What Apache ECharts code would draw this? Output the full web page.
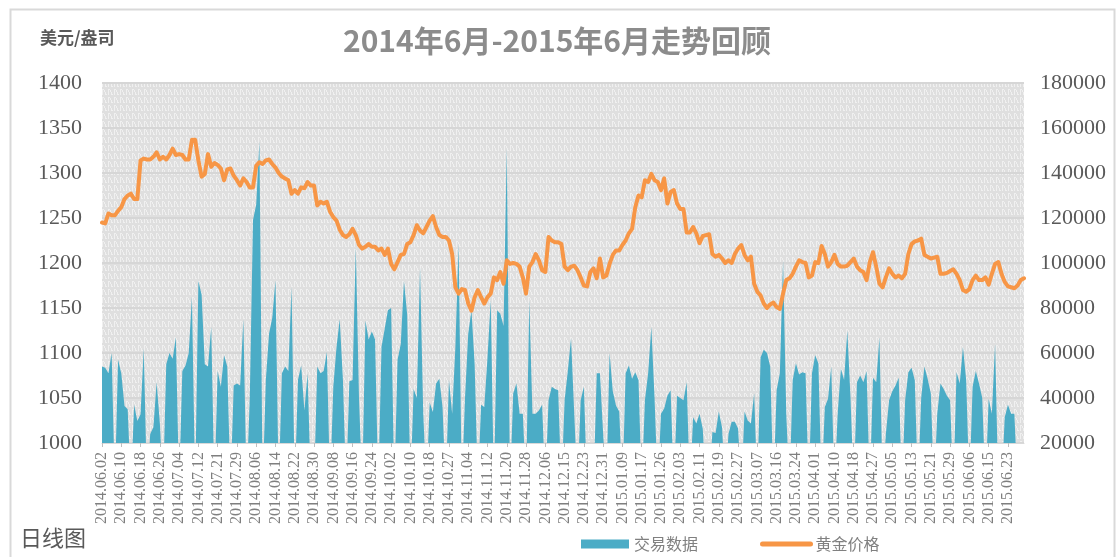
<!DOCTYPE html>
<html>
<head>
<meta charset="utf-8">
<script src="https://cdn.jsdelivr.net/npm/echarts@6/dist/echarts.min.js"></script>
<style>
html,body{margin:0;padding:0;background:#fff;}
#chart{width:1117px;height:557px;}
</style>
</head>
<body>
<div id="chart"></div>
<script>
// ---- data ----
const firstDay = '2014-06-02';
const lastDay = '2015-06-30';
// trading days on Saturdays that appear in the data, and weekdays missing from it
const extraDays = ['2014-07-12','2014-08-30','2014-10-18','2014-12-06','2015-01-17','2015-03-07','2015-04-18','2015-06-06'];
const skipDays = ['2015-01-01','2015-04-03'];

const goldPrice = [
  1245,1244,1255,1253,1253,1258,1262,1271,1275,1277,
  1271,1271,1314,1316,1315,1315,1318,1323,1315,1318,
  1315,1320,1327,1320,1321,1320,1315,1315,1337,1337,
  1314,1296,1299,1321,1307,1311,1309,1305,1292,1304,
  1305,1297,1292,1286,1294,1290,1284,1284,1308,1312,
  1310,1314,1315,1310,1306,1300,1296,1294,1292,1277,
  1281,1277,1284,1283,1290,1286,1286,1264,1268,1266,
  1268,1257,1251,1247,1237,1231,1229,1232,1238,1231,
  1220,1216,1218,1221,1218,1218,1214,1216,1209,1216,
  1199,1193,1201,1209,1210,1221,1223,1231,1242,1236,
  1233,1240,1247,1252,1240,1231,1229,1229,1225,1210,
  1173,1166,1171,1170,1155,1147,1162,1170,1162,1155,
  1162,1166,1184,1181,1190,1177,1203,1199,1200,1199,
  1196,1184,1166,1196,1201,1210,1203,1192,1190,1229,
  1225,1223,1223,1221,1196,1192,1196,1197,1192,1184,
  1175,1174,1190,1194,1183,1205,1184,1186,1199,1209,
  1214,1214,1220,1225,1233,1238,1262,1275,1273,1292,
  1290,1299,1292,1290,1281,1294,1266,1279,1281,1266,
  1260,1260,1234,1234,1240,1233,1222,1230,1231,1232,
  1210,1207,1209,1205,1200,1203,1200,1210,1216,1220,
  1209,1203,1207,1177,1168,1164,1155,1150,1154,1156,
  1151,1149,1166,1181,1183,1188,1196,1203,1201,1200,
  1184,1186,1201,1200,1219,1210,1196,1201,1209,1199,
  1196,1196,1197,1201,1205,1196,1192,1190,1181,1201,
  1212,1196,1177,1173,1184,1194,1188,1184,1186,1183,
  1188,1210,1221,1224,1225,1227,1209,1207,1205,1206,
  1207,1188,1188,1189,1191,1193,1188,1181,1170,1168,
  1171,1181,1186,1181,1181,1184,1176,1188,1199,1201,
  1188,1179,1174,1173,1172,1175,1181,1183
];

const tradeVolume = [
  54000,53500,51000,60000,0,57000,51000,36500,35000,0,
  37000,29800,32800,62000,0,24000,27000,47000,29000,0,
  55000,60000,57500,67000,0,52000,54500,60000,85000,0,
  92000,86000,55000,54000,71600,0,52000,45000,59000,54000,
  0,45600,46500,45600,75000,0,40000,119000,126000,154000,
  0,48000,68600,75700,92300,0,51000,54000,52000,89300,
  0,48000,54500,34500,51000,0,0,54000,51000,52000,
  60500,0,45000,62700,75000,48000,0,47500,48000,107000,
  40000,0,74500,66000,69600,66000,0,62700,70800,79000,
  80000,0,57000,64000,92000,77000,0,44000,40000,98000,
  33000,0,38000,33800,46400,48600,36000,0,48000,33000,
  62700,108600,0,40000,68600,79000,55000,0,37000,36000,
  58000,83500,0,79000,77500,72000,151000,0,42000,46400,
  33000,33000,0,83500,33000,33000,34500,37000,0,39000,
  45000,44000,43400,0,39000,52000,66600,33000,0,39000,
  45000,0,0,0,51000,51000,24000,0,60000,43000,
  36700,34000,0,51000,54500,48600,51500,48000,0,39000,
  51000,71600,40000,0,33000,35300,41000,43400,0,41000,
  40000,39000,47000,0,31500,28700,33000,26500,0,0,
  24900,24400,34000,27000,0,24000,29500,29500,26500,0,
  34000,30000,28700,42000,0,58000,61500,60000,54000,0,
  43400,51000,101000,33000,0,48000,55500,50500,51500,51000,
  0,51000,59000,55500,0,36000,39700,54000,0,33000,
  53000,48000,70000,40000,0,47000,50000,47000,52000,0,
  49000,47000,67000,0,24000,39000,43000,45600,49000,0,
  39000,51500,53500,48000,0,40000,54000,48600,42000,0,
  33000,46400,44000,41000,39000,0,51500,46400,62700,48000,
  0,45000,52000,46400,40000,0,39700,33000,64000,0,
  0,31500,37000,33000,33000,0,0,0
];

const priceTicks = {min:1000, max:1400, interval:50};
const volumeTicks = {min:20000, max:180000, interval:20000};
const seriesNames = ['交易数据','黄金价格'];

// ---- categories: trading calendar ----
function pad(n){return (n<10?'0':'')+n;}
function buildCategories(){
  const out = [];
  const p = s => { const a = s.split('-').map(Number); return Date.UTC(a[0], a[1]-1, a[2]); };
  const extra = new Set(extraDays), skip = new Set(skipDays);
  for (let t = p(firstDay); t <= p(lastDay); t += 86400000) {
    const d = new Date(t);
    const iso = d.getUTCFullYear()+'-'+pad(d.getUTCMonth()+1)+'-'+pad(d.getUTCDate());
    const wd = d.getUTCDay();
    const isTrading = (wd >= 1 && wd <= 5 && !skip.has(iso)) || extra.has(iso);
    if (isTrading) out.push(iso.replace(/-/g,'.'));
  }
  return out;
}
const categories = buildCategories();

// ---- background pattern ----
function makePattern(){
  const c = document.createElement('canvas');
  c.width = 6; c.height = 8;
  const g = c.getContext('2d');
  g.fillStyle = '#dfdfdf'; g.fillRect(0,0,6,8);
  g.fillStyle = '#f0f0f0';
  g.fillRect(0,1,1,6);
  g.fillRect(1,1,1,1);
  g.fillRect(2,2,1,2);
  g.fillRect(3,4,1,3);
  g.fillRect(4,6,1,1);
  return c;
}

const serif = '"Liberation Serif", "DejaVu Serif", serif';
const cjk = '"Noto Sans CJK SC", "Noto Sans", sans-serif';

const chart = echarts.init(document.getElementById('chart'), null, {renderer:'canvas'});
chart.setOption({
  backgroundColor: '#ffffff',
  animation: false,
  title: {
    text: '2014年6月-2015年6月走势回顾',
    left: 552, top: 21, textAlign: 'center',
    textStyle: {fontFamily: cjk, fontSize: 30, fontWeight: 'bold', color: '#8c8c8c'}
  },
  graphic: [
    {type:'rect', left: 8, top: 7, shape:{width:1104, height:560}, style:{fill:'none', stroke:'#d9d9d9', lineWidth:2}, silent:true},
    {type:'text', left: 40, top: 29, style:{text:'美元/盎司', font:'bold 17px "Noto Sans CJK SC"', fill:'#595959'}},
    {type:'text', left: 20, top: 527, style:{text:'日线图', font:'22px "Noto Sans CJK SC"', fill:'#595959'}}
  ],
  legend: {
    data: [
      {name: seriesNames[0], icon: 'rect'},
      {name: seriesNames[1], itemStyle: {opacity: 0}, lineStyle: {width: 5, cap: 'round'}}
    ],
    left: 576, top: 531,
    itemWidth: 48, itemHeight: 9, itemGap: 62,
    textStyle: {fontFamily: cjk, fontSize: 16, color: '#808080'}
  },
  grid: {
    left: 102, right: 93, top: 83, bottom: 114,
    show: true, borderWidth: 0,
    backgroundColor: {image: makePattern(), repeat: 'repeat'}
  },
  xAxis: {
    type: 'category',
    data: categories,
    boundaryGap: false,
    axisLine: {show: true, lineStyle: {color: '#d9d9d9', width: 1}},
    axisTick: {show: true, interval: 5, length: 4, lineStyle: {color: '#bfbfbf'}},
    axisLabel: {interval: 5, rotate: 90, margin: 9, fontFamily: serif, fontSize: 16, color: '#7f7f7f'},
    splitLine: {show: false}
  },
  yAxis: [
    {
      type: 'value', min: priceTicks.min, max: priceTicks.max, interval: priceTicks.interval,
      axisLine: {show: false}, axisTick: {show: false},
      axisLabel: {margin: 20, fontFamily: serif, fontSize: 22, color: '#595959', formatter: v => String(v)},
      splitLine: {show: true, lineStyle: {color: '#d6d6d6', width: 2}}
    },
    {
      type: 'value', min: volumeTicks.min, max: volumeTicks.max, interval: volumeTicks.interval,
      position: 'right',
      axisLine: {show: false}, axisTick: {show: false},
      axisLabel: {margin: 16, fontFamily: serif, fontSize: 22, color: '#595959', formatter: v => String(v)},
      splitLine: {show: false}
    }
  ],
  series: [
    {
      name: seriesNames[0], type: 'line', yAxisIndex: 1,
      data: tradeVolume,
      symbol: 'none', clip: true,
      itemStyle: {color: '#4bacc6'},
      lineStyle: {width: 0, color: '#4bacc6'},
      areaStyle: {color: '#4bacc6', opacity: 1},
      z: 2
    },
    {
      name: seriesNames[1], type: 'line', yAxisIndex: 0,
      data: goldPrice,
      symbol: 'none', clip: true,
      itemStyle: {color: '#f79646'},
      lineStyle: {width: 4, color: '#f79646', cap: 'round', join: 'round'},
      z: 3
    }
  ]
});
</script>
</body>
</html>
